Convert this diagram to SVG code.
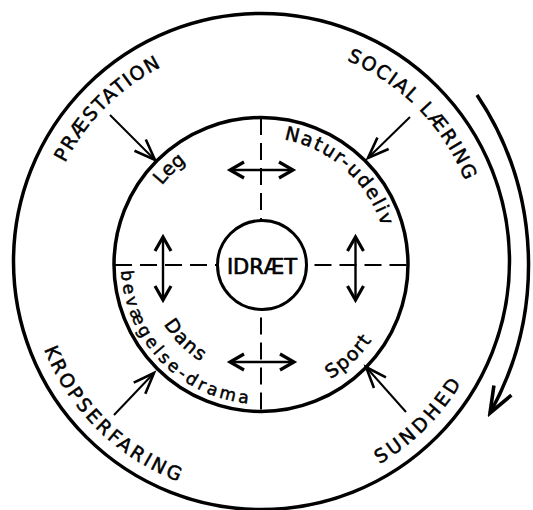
<svg xmlns="http://www.w3.org/2000/svg" width="533" height="510" viewBox="0 0 533 510">
<style>
.ring{fill:none;stroke:#000;stroke-width:3.5}
.dash{fill:none;stroke:#000;stroke-width:2;stroke-dasharray:17 8}
.ptr{fill:none;stroke:#000;stroke-width:2;marker-end:url(#open)}
.dbl{fill:none;stroke:#000;stroke-width:2.4;marker-start:url(#head);marker-end:url(#head)}
.big{fill:none;stroke:#000;stroke-width:3.5;marker-end:url(#bighead)}
.lab{font-family:"DejaVu Sans","Liberation Sans",sans-serif;fill:#000;stroke:#000;stroke-width:0.5}
.outer{font-size:19px}
.inner{font-size:19px}
</style>
<defs>
<marker id="open" viewBox="-26 -13 30 26" refX="0" refY="0" markerWidth="30" markerHeight="26" orient="auto" markerUnits="userSpaceOnUse">
<path d="M-21,-8 L0,0 L-21,8" fill="none" stroke="#000" stroke-width="2.6"/>
</marker>
<marker id="head" viewBox="-20 -12 24 24" refX="0" refY="0" markerWidth="24" markerHeight="24" orient="auto-start-reverse" markerUnits="userSpaceOnUse">
<path d="M-14,-8 L0,0 L-14,8" fill="none" stroke="#000" stroke-width="3.2"/>
</marker>
<marker id="bighead" viewBox="-32 -16 36 32" refX="0" refY="0" markerWidth="36" markerHeight="32" orient="auto" markerUnits="userSpaceOnUse">
<path d="M-26,-10 L0,0 L-26,10" fill="none" stroke="#000" stroke-width="3.6"/>
</marker>
<path id="pPrae" d="M60,173.5 A220,220 0 0 1 171.5,62"/>
<path id="pSoc" d="M338,56.9 A220,220 0 0 1 468.4,189.6"/>
<path id="pSund" d="M370.6,469.2 A233.5,233.5 0 0 0 466,374.8"/>
<path id="pKrop" d="M40.2,339 A233.5,233.5 0 0 0 188.8,485.1"/>
<path id="pLeg" d="M158.7,189.6 A126.5,126.5 0 0 1 190.3,159.1"/>
<path id="pNat" d="M278.6,138.7 A126.5,126.5 0 0 1 383.2,231.3"/>
<path id="pBev" d="M121,265.2 A140,140 0 0 0 253.7,403.8"/>
<path id="pDans" d="M160.9,319.5 A114.5,114.5 0 0 0 205.5,364.1"/>
<path id="pSport" d="M326.2,381.6 A134.5,134.5 0 0 0 374.3,336.5"/>
</defs>
<rect width="533" height="510" fill="#fff"/>

<g id="outer-ring">
<circle class="ring" cx="261.5" cy="261.5" r="248"/>
</g>
<g id="middle-ring">
<circle class="ring" cx="261" cy="264.5" r="147"/>
</g>
<g id="idraet">
<circle class="ring" cx="262" cy="265" r="44.5" style="stroke-width:3"/>
<text class="lab" x="262" y="273.5" font-size="21" text-anchor="middle" style="stroke-width:0.7">IDRÆT</text>
</g>

<g id="connectors">
<path class="dash" d="M261,118 L261,220.5"/>
<path class="dash" d="M261,409.5 L261,309.5"/>
<path class="dash" d="M115,265 L217.5,265"/>
<path class="dash" d="M406.5,265 L306.5,265"/>
<path class="dbl" d="M230,170 L293,170"/>
<path class="dbl" d="M230,362 L294,362"/>
<path class="dbl" d="M163,237 L163,300"/>
<path class="dbl" d="M355.5,237 L355.5,300"/>
<path class="ptr" d="M110,115 L155,160"/>
<path class="ptr" d="M410,117 L368,158"/>
<path class="ptr" d="M114,415 L154,373"/>
<path class="ptr" d="M406,412 L366,367"/>
<path class="big" d="M477,95 A305,305 0 0 1 490,413"/>
</g>

<g id="praestation">
<text class="lab outer"><textPath href="#pPrae" startOffset="50%" text-anchor="middle" textLength="138" lengthAdjust="spacing">PRÆSTATION</textPath></text>
</g>
<g id="social-laering">
<text class="lab outer"><textPath href="#pSoc" startOffset="50%" text-anchor="middle" textLength="173" lengthAdjust="spacing">SOCIAL LÆRING</textPath></text>
</g>
<g id="sundhed">
<text class="lab outer"><textPath href="#pSund" startOffset="50%" text-anchor="middle" textLength="116" lengthAdjust="spacing">SUNDHED</textPath></text>
</g>
<g id="kropserfaring">
<text class="lab outer"><textPath href="#pKrop" startOffset="50%" text-anchor="middle" textLength="194" lengthAdjust="spacing">KROPSERFARING</textPath></text>
</g>
<g id="leg">
<text class="lab inner"><textPath href="#pLeg" startOffset="50%" text-anchor="middle">Leg</textPath></text>
</g>
<g id="natur-udeliv">
<text class="lab inner"><textPath href="#pNat" startOffset="50%" text-anchor="middle" textLength="137" lengthAdjust="spacing">Natur-udeliv</textPath></text>
</g>
<g id="dans">
<text class="lab inner"><textPath href="#pDans" startOffset="50%" text-anchor="middle" textLength="53" lengthAdjust="spacing">Dans</textPath></text>
</g>
<g id="bevaegelse-drama">
<text class="lab" font-size="17"><textPath href="#pBev" startOffset="50%" text-anchor="middle" textLength="200" lengthAdjust="spacing">bevægelse-drama</textPath></text>
</g>
<g id="sport">
<text class="lab inner"><textPath href="#pSport" startOffset="50%" text-anchor="middle" textLength="57" lengthAdjust="spacing">Sport</textPath></text>
</g>
</svg>
